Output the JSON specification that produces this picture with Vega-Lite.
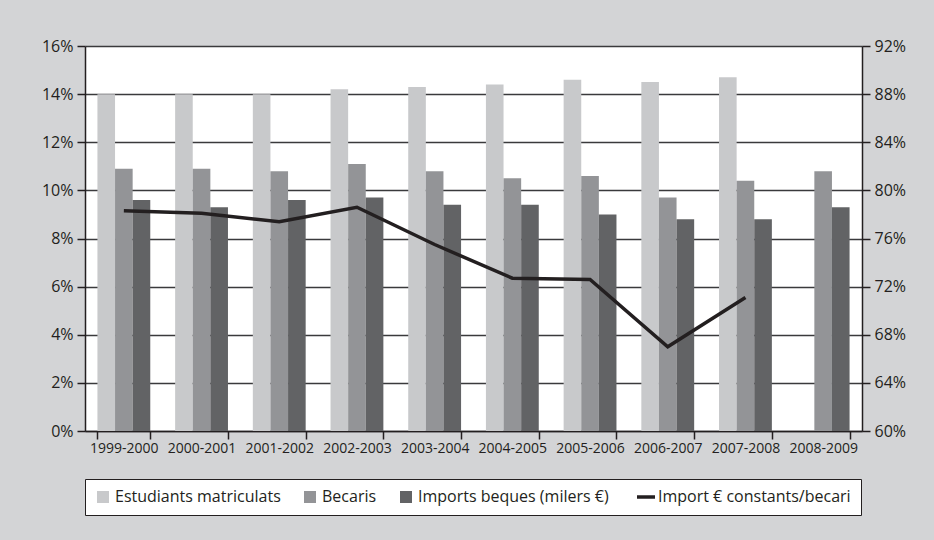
{
  "$schema": "https://vega.github.io/schema/vega-lite/v6.json",
  "width": 777,
  "height": 385,
  "autosize": {"type": "none"},
  "padding": {"left": 85, "top": 46, "right": 72, "bottom": 109},
  "background": "#d3d4d6",
  "datasets": {
    "bars": [
      {"periode": "1999-2000", "serie": "Estudiants matriculats", "valor": 14.0},
      {"periode": "1999-2000", "serie": "Becaris", "valor": 10.9},
      {"periode": "1999-2000", "serie": "Imports beques (milers €)", "valor": 9.6},
      {"periode": "2000-2001", "serie": "Estudiants matriculats", "valor": 14.0},
      {"periode": "2000-2001", "serie": "Becaris", "valor": 10.9},
      {"periode": "2000-2001", "serie": "Imports beques (milers €)", "valor": 9.3},
      {"periode": "2001-2002", "serie": "Estudiants matriculats", "valor": 14.0},
      {"periode": "2001-2002", "serie": "Becaris", "valor": 10.8},
      {"periode": "2001-2002", "serie": "Imports beques (milers €)", "valor": 9.6},
      {"periode": "2002-2003", "serie": "Estudiants matriculats", "valor": 14.2},
      {"periode": "2002-2003", "serie": "Becaris", "valor": 11.1},
      {"periode": "2002-2003", "serie": "Imports beques (milers €)", "valor": 9.7},
      {"periode": "2003-2004", "serie": "Estudiants matriculats", "valor": 14.3},
      {"periode": "2003-2004", "serie": "Becaris", "valor": 10.8},
      {"periode": "2003-2004", "serie": "Imports beques (milers €)", "valor": 9.4},
      {"periode": "2004-2005", "serie": "Estudiants matriculats", "valor": 14.4},
      {"periode": "2004-2005", "serie": "Becaris", "valor": 10.5},
      {"periode": "2004-2005", "serie": "Imports beques (milers €)", "valor": 9.4},
      {"periode": "2005-2006", "serie": "Estudiants matriculats", "valor": 14.6},
      {"periode": "2005-2006", "serie": "Becaris", "valor": 10.6},
      {"periode": "2005-2006", "serie": "Imports beques (milers €)", "valor": 9.0},
      {"periode": "2006-2007", "serie": "Estudiants matriculats", "valor": 14.5},
      {"periode": "2006-2007", "serie": "Becaris", "valor": 9.7},
      {"periode": "2006-2007", "serie": "Imports beques (milers €)", "valor": 8.8},
      {"periode": "2007-2008", "serie": "Estudiants matriculats", "valor": 14.7},
      {"periode": "2007-2008", "serie": "Becaris", "valor": 10.4},
      {"periode": "2007-2008", "serie": "Imports beques (milers €)", "valor": 8.8},
      {"periode": "2008-2009", "serie": "Becaris", "valor": 10.8},
      {"periode": "2008-2009", "serie": "Imports beques (milers €)", "valor": 9.3}
    ],
    "linia": [
      {"periode": "1999-2000", "import": 78.3},
      {"periode": "2000-2001", "import": 78.1},
      {"periode": "2001-2002", "import": 77.4},
      {"periode": "2002-2003", "import": 78.6},
      {"periode": "2003-2004", "import": 75.5},
      {"periode": "2004-2005", "import": 72.7},
      {"periode": "2005-2006", "import": 72.6},
      {"periode": "2006-2007", "import": 67.0},
      {"periode": "2007-2008", "import": 71.1}
    ]
  },
  "config": {
    "font": "Open Sans",
    "view": {"stroke": null, "fill": "white"},
    "axis": {"labelColor": "#231f20", "domainColor": "#231f20", "tickColor": "#231f20", "titleColor": "#231f20"}
  },
  "encoding": {
    "x": {
      "field": "periode", "type": "nominal", "sort": null,
      "scale": {"paddingInner": 0.32, "paddingOuter": 0.16},
      "axis": {"title": null, "labelAngle": 0, "labelFontSize": 14, "tickBand": "extent", "tickSize": 8, "labelPadding": 2, "domainWidth": 1.5, "tickWidth": 1.5}
    }
  },
  "layer": [
    {
      "data": {"name": "bars"},
      "mark": {"type": "bar"},
      "encoding": {
        "xOffset": {"field": "serie", "type": "nominal", "scale": {"domain": ["Estudiants matriculats", "Becaris", "Imports beques (milers €)"], "paddingInner": 0, "paddingOuter": 0}},
        "y": {
          "field": "valor", "type": "quantitative",
          "scale": {"domain": [0, 16], "nice": false},
          "axis": {"title": null, "values": [0, 2, 4, 6, 8, 10, 12, 14, 16], "labelExpr": "datum.value + '%'", "labelFontSize": 16, "tickSize": 8, "labelPadding": 4, "grid": true, "gridColor": "#3a3a3c", "gridWidth": 1.4, "domainWidth": 1.5, "tickWidth": 1.5}
        },
        "color": {
          "field": "serie", "type": "nominal",
          "scale": {"domain": ["Estudiants matriculats", "Becaris", "Imports beques (milers €)", "Import € constants/becari"], "range": ["#c8c9cb", "#939497", "#626365", "#231f20"]},
          "legend": {
            "title": null, "orient": "bottom", "direction": "horizontal", "columns": 4, "offset": 24,
            "fillColor": "white", "strokeColor": "#231f20", "padding": 10,
            "labelFontSize": 16, "labelColor": "#231f20", "labelLimit": 400, "columnPadding": 21,
            "symbolType": "square", "symbolSize": 144, "symbolOpacity": 1,
            "encode": {
              "symbols": {
                "update": {
                  "shape": {"signal": "datum.value === 'Import € constants/becari' ? 'stroke' : 'square'"},
                  "size": {"signal": "datum.value === 'Import € constants/becari' ? 324 : 144"},
                  "strokeWidth": {"signal": "datum.value === 'Import € constants/becari' ? 3.5 : 0"},
                  "stroke": {"signal": "scale('color', datum.value)"},
                  "fill": {"signal": "scale('color', datum.value)"},
                  "fillOpacity": {"value": 1}
                }
              }
            }
          }
        }
      }
    },
    {
      "data": {"name": "linia"},
      "mark": {"type": "line", "strokeWidth": 3.5, "color": "#231f20"},
      "encoding": {
        "y": {
          "field": "import", "type": "quantitative",
          "scale": {"domain": [60, 92], "nice": false},
          "axis": {"title": null, "orient": "right", "values": [60, 64, 68, 72, 76, 80, 84, 88, 92], "labelExpr": "datum.value + '%'", "labelFontSize": 16, "tickSize": 8, "labelPadding": 4, "grid": false, "domainWidth": 1.5, "tickWidth": 1.5}
        },
        "color": {"datum": "Import € constants/becari"}
      }
    }
  ],
  "resolve": {"scale": {"y": "independent"}}
}
